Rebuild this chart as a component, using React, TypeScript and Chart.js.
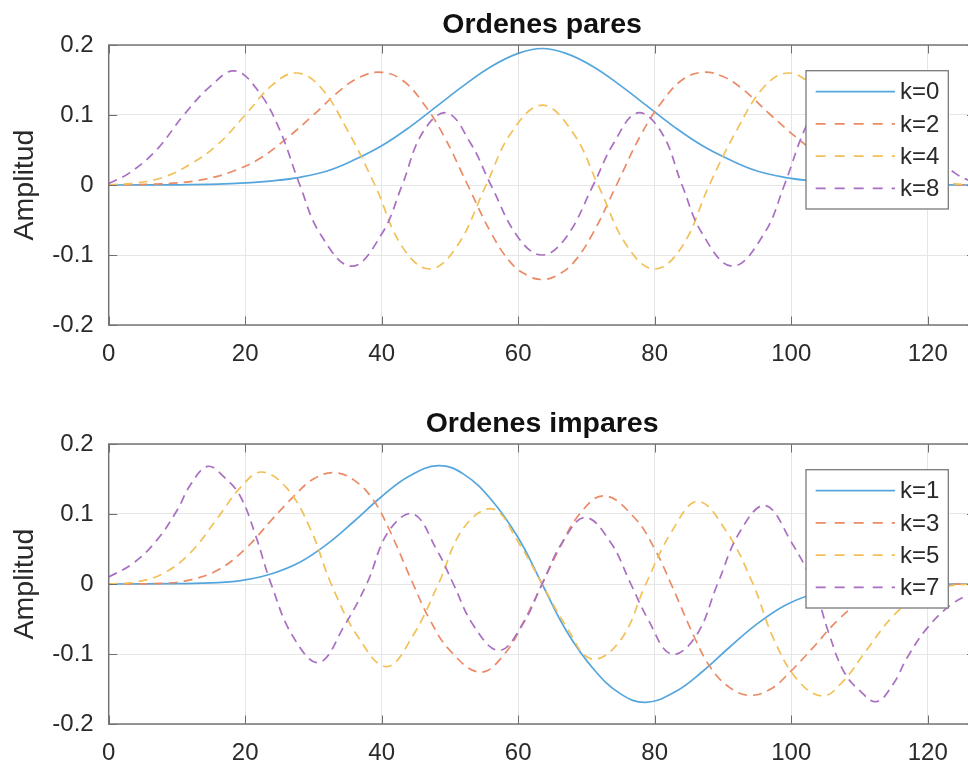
import React, { useEffect, useRef } from 'react';
import { Chart, registerables } from 'chart.js';

Chart.register(...registerables);

const FONT = '"Liberation Sans", Arial, Helvetica, sans-serif';
const TEXT = '#2a2a2a';

// Sample positions (n) and amplitudes of each sequence.
// Even orders
const k0X = [0, 10, 16, 20, 24, 28, 32, 36, 40, 44, 48, 52, 56, 60, 63.5, 67, 71, 75, 79, 83, 87, 91, 95, 99, 103, 107, 111, 117, 127];
const k0Y = [0, 0.0003, 0.0012, 0.003, 0.006, 0.011, 0.02, 0.036, 0.056, 0.082, 0.112, 0.142, 0.169, 0.188, 0.195, 0.188, 0.169, 0.142, 0.112, 0.082, 0.056, 0.036, 0.02, 0.011, 0.006, 0.003, 0.0012, 0.0003, 0];

const k2X = [0, 6, 10, 14, 18, 22, 26, 30, 34, 37, 40, 43, 46, 49, 52.6, 56, 59, 61.5, 63.5, 65.5, 68, 71, 74.4, 78, 81, 84, 87, 90, 93, 97, 101, 105, 109, 113, 117, 121, 127];
const k2Y = [0, 0.001, 0.003, 0.008, 0.019, 0.037, 0.066, 0.1, 0.136, 0.155, 0.161, 0.15, 0.118, 0.072, 0, -0.068, -0.112, -0.13, -0.135, -0.13, -0.112, -0.068, 0, 0.072, 0.118, 0.15, 0.161, 0.155, 0.136, 0.1, 0.066, 0.037, 0.019, 0.008, 0.003, 0.001, 0];

const k4X = [0, 4, 8, 12, 16, 20, 24, 27.5, 31, 35, 39, 43, 47, 51, 55.3, 59, 63.5, 68, 71.7, 76, 80, 84, 88, 92, 96, 99.5, 103, 107, 111, 115, 119, 123, 127];
const k4Y = [0, 0.003, 0.011, 0.03, 0.058, 0.1, 0.143, 0.16, 0.14, 0.078, 0, -0.088, -0.12, -0.088, 0, 0.075, 0.114, 0.075, 0, -0.088, -0.12, -0.088, 0, 0.078, 0.14, 0.16, 0.143, 0.1, 0.058, 0.03, 0.011, 0.003, 0];

const k8X = [0, 3, 7, 11, 15, 18.5, 22, 25, 28, 31, 35.6, 40, 43, 46, 49.5, 53, 56, 60, 63.5, 67, 71, 74, 77.5, 81, 84, 87, 91.4, 96, 99, 102, 105, 108.5, 112, 116, 120, 124, 127];
const k8Y = [0.002, 0.017, 0.05, 0.1, 0.142, 0.163, 0.133, 0.08, 0, -0.07, -0.116, -0.07, 0, 0.075, 0.103, 0.06, 0, -0.075, -0.1, -0.075, 0, 0.06, 0.103, 0.075, 0, -0.07, -0.116, -0.07, 0, 0.08, 0.133, 0.163, 0.142, 0.1, 0.05, 0.017, 0.002];

// Odd orders
const k1X = [0, 10, 16, 20, 24, 28, 32, 36, 40, 44, 48.3, 52, 56, 60, 63.5, 67, 71, 75, 78.7, 83, 87, 91, 95, 99, 103, 107, 111, 117, 127];
const k1Y = [0, 0.0005, 0.002, 0.006, 0.015, 0.031, 0.057, 0.09, 0.125, 0.154, 0.169, 0.157, 0.121, 0.066, 0, -0.066, -0.121, -0.157, -0.169, -0.154, -0.125, -0.09, -0.057, -0.031, -0.015, -0.006, -0.002, -0.0005, 0];

const k3X = [0, 8, 12, 16, 20, 24, 27, 30, 33.1, 36, 38.7, 41, 44.6, 47, 50, 54.4, 58, 61, 63.5, 66, 69, 72.6, 77, 80, 82.4, 86, 88.3, 91, 93.9, 97, 100, 103, 107, 111, 115, 119, 127];
const k3Y = [0, 0.001, 0.006, 0.02, 0.05, 0.093, 0.124, 0.15, 0.159, 0.148, 0.121, 0.08, 0, -0.05, -0.095, -0.126, -0.1, -0.05, 0, 0.05, 0.1, 0.126, 0.095, 0.05, 0, -0.08, -0.121, -0.148, -0.159, -0.15, -0.124, -0.093, -0.05, -0.02, -0.006, -0.001, 0];

const k5X = [0, 4, 8, 12, 16, 19.5, 22.4, 26, 29.5, 32.6, 36.5, 40.7, 44.5, 48.3, 52, 56.3, 60, 63.5, 67, 70.7, 75, 78.7, 82.5, 86.3, 90.5, 94.4, 97.5, 101, 104.6, 107.5, 111, 115, 119, 123, 127];
const k5Y = [0, 0.003, 0.015, 0.045, 0.095, 0.14, 0.16, 0.138, 0.08, 0, -0.075, -0.118, -0.075, 0, 0.08, 0.107, 0.06, 0, -0.06, -0.107, -0.08, 0, 0.075, 0.118, 0.075, 0, -0.08, -0.138, -0.16, -0.14, -0.095, -0.045, -0.015, -0.003, 0];

const k7X = [0, 3.5, 7, 10, 12, 14.5, 17, 19.3, 21.5, 23.8, 27, 30.8, 34.5, 37.8, 41, 44.6, 48, 50.5, 53.5, 57.2, 60.5, 63.5, 66.5, 69.8, 73.5, 76.5, 79, 82.4, 86, 89.2, 92.5, 96.2, 100, 103.2, 105.5, 107.7, 110, 112.5, 115, 117, 120, 123.5, 127];
const k7Y = [0.01, 0.029, 0.062, 0.105, 0.142, 0.168, 0.152, 0.125, 0.07, 0, -0.075, -0.112, -0.06, 0, 0.075, 0.1, 0.05, 0, -0.06, -0.095, -0.06, 0, 0.06, 0.095, 0.06, 0, -0.05, -0.1, -0.075, 0, 0.075, 0.112, 0.06, 0, -0.07, -0.125, -0.152, -0.168, -0.142, -0.105, -0.062, -0.029, -0.01];

const evenLabels = ['k=0', 'k=2', 'k=4', 'k=8'];
const oddLabels = ['k=1', 'k=3', 'k=5', 'k=7'];

const X_MIN = 0;
const X_MAX = 127;
const X_STEP = 20;
const Y_MIN = -0.2;
const Y_MAX = 0.2;
const Y_STEP = 0.1;

const COLORS = ['#55a6dd', '#ea8b66', '#f2c057', '#a96fc2'];
const DASHES: number[][] = [[], [9, 6], [9, 6], [9, 6]];
const LEGEND_DASHES: number[][] = [[], [10, 9], [10, 9], [10, 9]];

type Series = { label: string; xs: number[]; ys: number[] };

const evenSeries: Series[] = [
  { label: evenLabels[0], xs: k0X, ys: k0Y },
  { label: evenLabels[1], xs: k2X, ys: k2Y },
  { label: evenLabels[2], xs: k4X, ys: k4Y },
  { label: evenLabels[3], xs: k8X, ys: k8Y },
];

const oddSeries: Series[] = [
  { label: oddLabels[0], xs: k1X, ys: k1Y },
  { label: oddLabels[1], xs: k3X, ys: k3Y },
  { label: oddLabels[2], xs: k5X, ys: k5Y },
  { label: oddLabels[3], xs: k7X, ys: k7Y },
];

const CANVAS_W = 990;
const CANVAS_H = 367;
const AREA_LEFT = 108.7;
const AREA_RIGHT = 975.5;
const AREA_TOP = 45;
const X_AXIS_H = 42;
const TICK_LEN = 8.5;

// Axes title centred over the plot box, box frame, inward tick marks and an inset legend.
const framePlugin = {
  id: 'frameAndLegend',
  afterDraw(chart: any, _args: any, opts: any) {
    const { ctx, chartArea: ca } = chart;
    const xs = chart.scales.x;
    const ys = chart.scales.y;
    ctx.save();

    // title
    ctx.fillStyle = '#111111';
    ctx.font = `bold 28.5px ${FONT}`;
    ctx.textAlign = 'center';
    ctx.textBaseline = 'alphabetic';
    ctx.fillText(opts.title, (ca.left + ca.right) / 2, ca.top - 11.7);

    // inward tick marks
    ctx.strokeStyle = '#6e6e6e';
    ctx.lineWidth = 1;
    ctx.beginPath();
    xs.ticks.forEach((t: any) => {
      const px = Math.round(xs.getPixelForValue(t.value)) + 0.5;
      ctx.moveTo(px, ca.bottom);
      ctx.lineTo(px, ca.bottom - TICK_LEN);
      ctx.moveTo(px, ca.top);
      ctx.lineTo(px, ca.top + TICK_LEN);
    });
    ys.ticks.forEach((t: any) => {
      const py = Math.round(ys.getPixelForValue(t.value)) + 0.5;
      ctx.moveTo(ca.left, py);
      ctx.lineTo(ca.left + TICK_LEN, py);
      ctx.moveTo(ca.right, py);
      ctx.lineTo(ca.right - TICK_LEN, py);
    });
    ctx.stroke();

    // axes box
    ctx.strokeStyle = '#757575';
    ctx.lineWidth = 1.5;
    ctx.strokeRect(ca.left, ca.top, ca.right - ca.left, ca.bottom - ca.top);

    // legend
    const bw = 142.3;
    const bh = 138.3;
    const bx = ca.right - 27.2 - bw;
    const by = ca.top + 25.7;
    ctx.fillStyle = '#ffffff';
    ctx.fillRect(bx, by, bw, bh);
    ctx.strokeStyle = '#7a7a7a';
    ctx.lineWidth = 1.3;
    ctx.strokeRect(bx, by, bw, bh);

    chart.data.datasets.forEach((ds: any, i: number) => {
      const yy = by + 21 + i * 32.2;
      ctx.strokeStyle = ds.borderColor;
      ctx.lineWidth = ds.borderWidth;
      ctx.setLineDash(LEGEND_DASHES[i]);
      ctx.beginPath();
      ctx.moveTo(bx + 9.7, yy);
      ctx.lineTo(bx + 89, yy);
      ctx.stroke();
      ctx.setLineDash([]);
      ctx.fillStyle = TEXT;
      ctx.font = `24px ${FONT}`;
      ctx.textAlign = 'left';
      ctx.textBaseline = 'middle';
      ctx.fillText(ds.label, bx + 94, yy + 1);
    });

    ctx.restore();
  },
};

function SubPlot({ title, series, top }: { title: string; series: Series[]; top: number }) {
  const ref = useRef<HTMLCanvasElement | null>(null);

  useEffect(() => {
    if (!ref.current) return;
    const datasets = series.map((s, i) => ({
      label: s.label,
      data: s.xs.map((x, j) => ({ x, y: s.ys[j] })),
      borderColor: COLORS[i],
      backgroundColor: COLORS[i],
      borderWidth: 1.7,
      borderDash: DASHES[i],
      pointRadius: 0,
      fill: false,
      tension: 0.4,
      order: series.length - i,
    }));

    const chart = new Chart(ref.current, {
      type: 'line',
      data: { datasets },
      options: {
        animation: false,
        responsive: false,
        devicePixelRatio: 1,
        layout: { padding: { left: 0, right: CANVAS_W - AREA_RIGHT, top: AREA_TOP, bottom: 0 } },
        plugins: {
          legend: { display: false },
          tooltip: { enabled: false },
          title: { display: false },
          frameAndLegend: { title },
        } as any,
        scales: {
          x: {
            type: 'linear',
            min: X_MIN,
            max: X_MAX,
            grid: { color: '#e6e6e6', lineWidth: 1, drawTicks: false },
            border: { display: false },
            ticks: {
              stepSize: X_STEP,
              includeBounds: false,
              padding: 15,
              color: TEXT,
              font: { family: FONT, size: 24 },
              maxRotation: 0,
              autoSkip: false,
            },
            afterFit: (scale: any) => {
              scale.height = X_AXIS_H;
            },
          },
          y: {
            type: 'linear',
            min: Y_MIN,
            max: Y_MAX,
            grid: { color: '#e6e6e6', lineWidth: 1, drawTicks: false },
            border: { display: false },
            ticks: {
              stepSize: Y_STEP,
              padding: 15,
              color: TEXT,
              font: { family: FONT, size: 24 },
              callback: (v: any) => String(Math.round(Number(v) * 10) / 10),
            },
            title: {
              display: true,
              text: 'Amplitud',
              color: TEXT,
              font: { family: FONT, size: 28.5 },
              padding: { top: 8, bottom: 0 },
            },
            afterFit: (scale: any) => {
              scale.width = AREA_LEFT;
            },
          },
        },
      },
      plugins: [framePlugin],
    });

    return () => chart.destroy();
  }, [title, series]);

  return (
    <canvas
      ref={ref}
      width={CANVAS_W}
      height={CANVAS_H}
      style={{ position: 'absolute', left: 0, top, width: CANVAS_W, height: CANVAS_H }}
    />
  );
}

export default function App() {
  return (
    <div
      style={{
        position: 'absolute',
        left: 0,
        top: 0,
        width: 968,
        height: 766,
        overflow: 'hidden',
        background: '#ffffff',
      }}
    >
      <SubPlot title="Ordenes pares" series={evenSeries} top={0} />
      <SubPlot title="Ordenes impares" series={oddSeries} top={399} />
    </div>
  );
}
